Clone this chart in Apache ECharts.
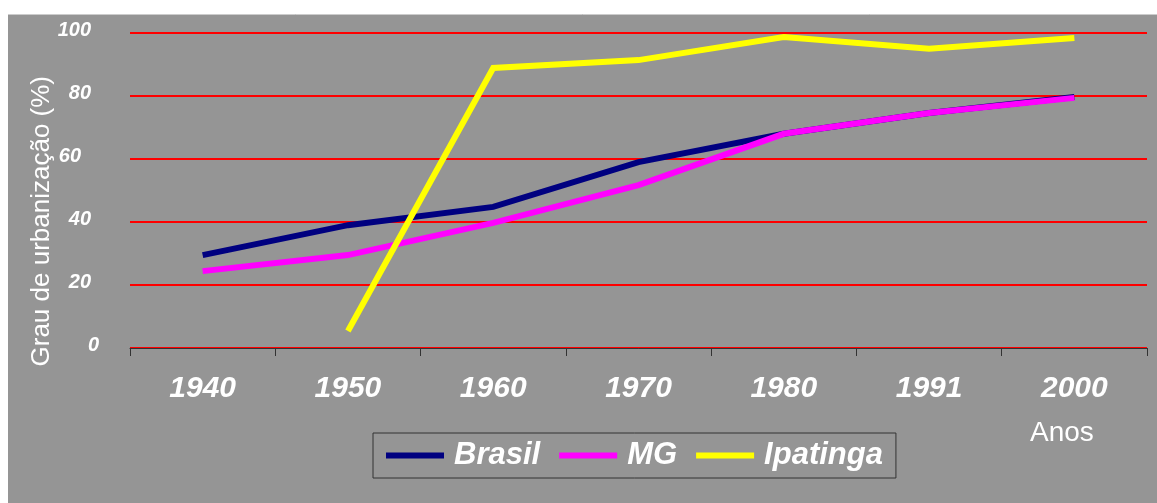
<!DOCTYPE html>
<html>
<head>
<meta charset="utf-8">
<style>
  html, body { margin: 0; padding: 0; background: #ffffff; }
  #chart { width: 1157px; height: 503px; }
</style>
<script src="https://cdn.jsdelivr.net/npm/echarts@6/dist/echarts.min.js"></script>
</head>
<body>
<div id="chart"></div>
<script>
// Grau de urbanização (%) — Brasil, Minas Gerais e Ipatinga
const anos = ['1940', '1950', '1960', '1970', '1980', '1991', '2000'];
const brasil = [29.5, 39, 44.8, 59, 68, 74.6, 79.7];
const mg = [24.4, 29.5, 39.7, 51.7, 68, 74.6, 79.4];
const ipatinga = [null, 5.4, 88.9, 91.4, 98.7, 95, 98.4];
const yTicks = [0, 20, 40, 60, 80, 100];

const FONT = 'Arial, "Liberation Sans", sans-serif';
const chart = echarts.init(document.getElementById('chart'), null, { renderer: 'canvas' });

const yLabel = { color: '#ffffff', fontFamily: FONT, fontWeight: 'bold', fontStyle: 'italic', fontSize: 20 };

chart.setOption({
  backgroundColor: '#ffffff',
  animation: false,
  graphic: [
    { type: 'rect', z: -10, shape: { x: 8, y: 14, width: 1149, height: 489 },
      style: { fill: '#959595' } },
    { type: 'line', z: -9, shape: { x1: 8, y1: 14.5, x2: 1157, y2: 14.5 },
      style: { stroke: '#cccccc', lineWidth: 1 } },
    { type: 'text', left: 29, top: 76, rotation: Math.PI / 2, silent: true,
      style: { text: 'Grau de urbanização (%)', fill: '#ffffff', font: '26px ' + FONT } },
    { type: 'text', left: 1030, top: 419, silent: true,
      style: { text: 'Anos', fill: '#ffffff', font: '28px ' + FONT } }
  ],
  grid: { left: 130, right: 10, top: 33, height: 315 },
  legend: {
    left: 373, top: 433,
    orient: 'horizontal',
    borderColor: '#333333', borderWidth: 1, borderRadius: 0,
    backgroundColor: 'transparent',
    padding: [7, 13, 7, 13],
    itemWidth: 58, itemHeight: 6, itemGap: 19,
    icon: 'rect',
    data: ['Brasil', 'MG', 'Ipatinga'],
    formatter: '{n|{name}}',
    textStyle: {
      rich: { n: { color: '#ffffff', fontFamily: FONT, fontWeight: 'bold', fontStyle: 'italic',
                   fontSize: 31, lineHeight: 32, padding: [0, 0, 0, 5] } }
    }
  },
  xAxis: {
    type: 'category',
    data: anos,
    boundaryGap: true,
    axisLine: { lineStyle: { color: '#333333', width: 1 } },
    axisTick: { show: true, length: 8, lineStyle: { color: '#333333' } },
    axisLabel: { color: '#ffffff', fontFamily: FONT, fontWeight: 'bold', fontStyle: 'italic',
                 fontSize: 30, margin: 26 },
    splitLine: { show: false }
  },
  yAxis: {
    type: 'value',
    min: yTicks[0], max: yTicks[yTicks.length - 1], interval: 20,
    axisLine: { show: false },
    axisTick: { show: false },
    splitLine: { show: true, lineStyle: { color: '#ff0000', width: 2 } },
    axisLabel: {
      margin: 31,
      formatter: function (v) {
        if (v === 0) return '{z|' + v + '}';
        if (v === 60) return '{s|' + v + '}';
        return '{a|' + v + '}';
      },
      rich: {
        a: Object.assign({ padding: [0, 8, 5, 0] }, yLabel),
        s: Object.assign({ padding: [0, 18, 5, 0] }, yLabel),
        z: Object.assign({ padding: [0, 0, 5, 0] }, yLabel)
      }
    }
  },
  series: [
    { name: 'Brasil', type: 'line', data: brasil, showSymbol: false, symbol: 'none',
      itemStyle: { color: '#000080' }, lineStyle: { color: '#000080', width: 6, join: 'miter' } },
    { name: 'MG', type: 'line', data: mg, showSymbol: false, symbol: 'none',
      itemStyle: { color: '#ff00ff' }, lineStyle: { color: '#ff00ff', width: 6, join: 'miter' } },
    { name: 'Ipatinga', type: 'line', data: ipatinga, showSymbol: false, symbol: 'none', connectNulls: false,
      itemStyle: { color: '#ffff00' }, lineStyle: { color: '#ffff00', width: 6, join: 'miter' } }
  ]
});
</script>
</body>
</html>
